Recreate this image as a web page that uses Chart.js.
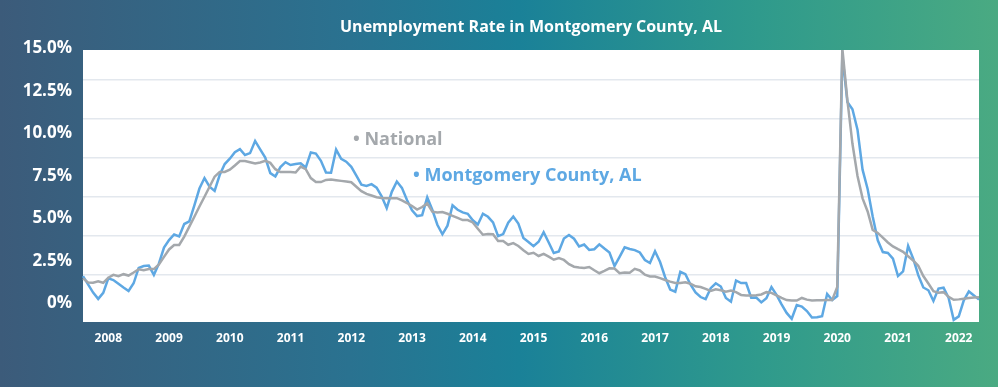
<!DOCTYPE html>
<html>
<head>
<meta charset="utf-8">
<script src="https://cdn.jsdelivr.net/npm/chart.js@4"></script>
<style>
  html, body { margin: 0; padding: 0; }
  #wrap {
    width: 998px; height: 387px; position: relative;
    background: linear-gradient(90deg, #3c5b7a 0%, #2a7290 35%, #1a8198 52%, #2f9a8c 76%, #4aaa82 100%);
  }
  canvas { display: block; }
</style>
</head>
<body>
<div id="wrap"><canvas id="unemployment" width="998" height="387"></canvas></div>
<script>
// monthly series, Oct 2007 - Jul 2022
var startYear = 2007, startMonth = 10, monthCount = 178;
var months = [];
for (var k = 0; k < monthCount; k++) {
    var m = startMonth - 1 + k;
    var yr = startYear + Math.floor(m / 12);
    var mo = (m % 12) + 1;
    months.push(yr + '-' + (mo < 10 ? '0' + mo : mo));
}

var yearLabels = ['2008', '2009', '2010', '2011', '2012', '2013', '2014', '2015',
                  '2016', '2017', '2018', '2019', '2020', '2021', '2022'];

var yTickValues = [0, 2.5, 5, 7.5, 10, 12.5, 15];
var yTickLabels = ['0%', '2.5%', '5.0%', '7.5%', '10.0%', '12.5%', '15.0%'];

var national = [
    4.83, 4.65, 4.64, 4.70, 4.64, 4.86, 4.98, 4.92, 5.01, 4.95, 5.08, 5.22, 5.18, 5.23, 5.23, 5.43,
    5.75, 6.07, 6.26, 6.26, 6.62, 7.05, 7.47, 7.91, 8.33, 8.76, 9.19, 9.39, 9.39, 9.49, 9.67, 9.86,
    9.86, 9.81, 9.76, 9.80, 9.87, 9.78, 9.51, 9.39, 9.39, 9.39, 9.37, 9.62, 9.51, 9.13, 8.96, 8.96,
    9.05, 9.07, 9.04, 9.01, 8.98, 8.95, 8.76, 8.57, 8.45, 8.38, 8.31, 8.28, 8.27, 8.27, 8.27, 8.17,
    8.06, 7.93, 7.78, 7.89, 8.05, 7.69, 7.65, 7.67, 7.60, 7.51, 7.42, 7.33, 7.33, 7.23, 6.96, 6.70,
    6.73, 6.72, 6.43, 6.43, 6.27, 6.34, 6.22, 6.04, 5.88, 5.93, 5.79, 5.88, 5.76, 5.63, 5.70, 5.62,
    5.44, 5.33, 5.30, 5.28, 5.32, 5.18, 5.05, 5.15, 5.26, 5.25, 5.05, 5.08, 5.07, 5.24, 5.17, 4.99,
    4.91, 4.91, 4.84, 4.76, 4.69, 4.63, 4.63, 4.66, 4.60, 4.49, 4.46, 4.38, 4.29, 4.36, 4.32, 4.26,
    4.31, 4.24, 4.12, 4.10, 4.10, 4.11, 4.14, 4.24, 4.21, 4.10, 3.99, 3.90, 3.88, 3.88, 3.99, 3.92,
    3.88, 3.89, 3.89, 3.90, 3.90, 4.46, 14.70, 12.47, 10.60, 9.22, 8.26, 7.70, 6.91, 6.78, 6.58, 6.37,
    6.20, 6.08, 5.97, 5.78, 5.60, 5.37, 4.93, 4.61, 4.28, 4.21, 4.24, 4.04, 3.91, 3.93, 3.96, 3.99,
    4.01, 4.02
];

var montgomery = [
    4.93, 4.57, 4.22, 3.95, 4.21, 4.83, 4.76, 4.60, 4.44, 4.29, 4.62, 5.28, 5.36, 5.38, 4.98, 5.47,
    6.15, 6.47, 6.71, 6.63, 7.16, 7.27, 7.96, 8.68, 9.13, 8.76, 8.58, 9.26, 9.73, 9.96, 10.24, 10.37,
    10.12, 10.20, 10.72, 10.36, 10.01, 9.34, 9.20, 9.60, 9.81, 9.69, 9.73, 9.76, 9.58, 10.23, 10.18, 9.87,
    9.37, 9.36, 10.35, 9.95, 9.83, 9.61, 9.23, 8.85, 8.79, 8.87, 8.72, 8.35, 7.84, 8.54, 8.98, 8.71,
    8.19, 7.75, 7.50, 7.54, 8.30, 7.77, 7.13, 6.72, 7.09, 7.96, 7.77, 7.66, 7.60, 7.32, 7.14, 7.60,
    7.47, 7.23, 6.64, 6.73, 7.22, 7.48, 7.18, 6.56, 6.39, 6.21, 6.40, 6.81, 6.37, 5.92, 5.98, 6.54,
    6.69, 6.53, 6.20, 6.28, 6.05, 6.08, 6.29, 6.11, 5.94, 5.36, 5.75, 6.16, 6.09, 6.04, 5.94, 5.62,
    5.49, 5.99, 5.53, 4.88, 4.35, 4.26, 5.11, 5.01, 4.57, 4.23, 4.03, 3.94, 4.41, 4.62, 4.48, 3.99,
    3.83, 4.74, 4.63, 4.63, 4.00, 4.01, 3.80, 3.98, 4.46, 4.12, 3.72, 3.35, 3.10, 3.69, 3.62, 3.43,
    3.15, 3.16, 3.21, 4.16, 3.90, 4.07, 14.40, 12.39, 12.08, 11.20, 9.49, 8.66, 7.48, 6.46, 5.96, 5.92,
    5.68, 4.93, 5.13, 6.22, 5.68, 4.97, 4.44, 4.32, 3.86, 4.39, 4.43, 3.99, 3.05, 3.20, 3.89, 4.27,
    4.10, 3.92
];

var seriesColors = { national: '#a4a8ac', county: '#5ea8e3' };
var titleText = 'Unemployment Rate in Montgomery County, AL';

// white plot panel, title centred over the panel, floating series labels
var panelPlugin = {
    id: 'panel',
    beforeDraw: function (chart) {
        var a = chart.chartArea, c = chart.ctx;
        c.save();
        c.fillStyle = '#ffffff';
        c.fillRect(a.left, a.top, a.right - a.left, a.bottom - a.top);
        c.font = 'bold 16px "Open Sans"';
        c.textAlign = 'center';
        c.textBaseline = 'middle';
        c.fillText(titleText, (a.left + a.right) / 2, 27);
        c.restore();
    },
    afterDatasetsDraw: function (chart) {
        var c = chart.ctx;
        c.save();
        c.font = 'bold 18px "Open Sans"';
        c.textBaseline = 'middle';
        c.fillStyle = seriesColors.national;
        c.fillText('\u2022 National', 353, 140);
        c.fillStyle = seriesColors.county;
        c.fillText('\u2022 Montgomery County, AL', 413, 176);
        c.restore();
    }
};

var ctx = document.getElementById('unemployment').getContext('2d');
var myChart = new Chart(ctx, {
    type: 'line',
    data: {
        labels: months,
        datasets: [{
            label: 'National',
            data: national,
            borderColor: seriesColors.national,
            borderWidth: 2.5,
            pointRadius: 0,
            tension: 0
        }, {
            label: 'Montgomery County, AL',
            data: montgomery,
            borderColor: seriesColors.county,
            borderWidth: 2.5,
            pointRadius: 0,
            tension: 0
        }]
    },
    options: {
        responsive: false,
        animation: false,
        layout: { padding: { left: 0, right: 19, top: 50, bottom: 0 } },
        plugins: {
            legend: { display: false },
            tooltip: { enabled: false },
            title: { display: false }
        },
        scales: {
            x: {
                type: 'category',
                offset: false,
                grid: { display: false, drawTicks: false },
                border: { display: false },
                afterFit: function (s) { s.height = 65; },
                ticks: {
                    autoSkip: false,
                    maxRotation: 0,
                    padding: 9,
                    color: '#ffffff',
                    font: { family: 'Open Sans', size: 12, weight: 'bold' },
                    callback: function (val, index) {
                        var m = months[index];
                        if (m.slice(5) !== '03') return '';
                        var y = m.slice(0, 4);
                        return yearLabels.indexOf(y) >= 0 ? y : '';
                    }
                }
            },
            y: {
                position: 'left',
                min: 2.96,
                max: 14.62,
                afterFit: function (s) { s.width = 0; },
                afterBuildTicks: function (s) {
                    s.ticks = [5, 20 / 3, 25 / 3, 10, 35 / 3, 40 / 3].map(function (v) { return { value: v }; });
                },
                grid: { color: '#e3e8ee', lineWidth: 1.5, drawTicks: false },
                border: { display: false },
                ticks: { display: false }
            },
            yl: {
                position: 'left',
                min: -1.1,
                max: 14.9,
                afterFit: function (s) { s.width = 83; },
                afterBuildTicks: function (s) {
                    s.ticks = yTickValues.map(function (v) { return { value: v }; });
                },
                grid: { display: false, drawTicks: false },
                border: { display: false },
                ticks: {
                    padding: 11,
                    color: '#ffffff',
                    font: { family: 'Open Sans', size: 17, weight: 'bold' },
                    callback: function (val) {
                        var i = yTickValues.indexOf(val);
                        return i >= 0 ? yTickLabels[i] : '';
                    }
                }
            }
        }
    },
    plugins: [panelPlugin]
});
</script>
</body>
</html>
